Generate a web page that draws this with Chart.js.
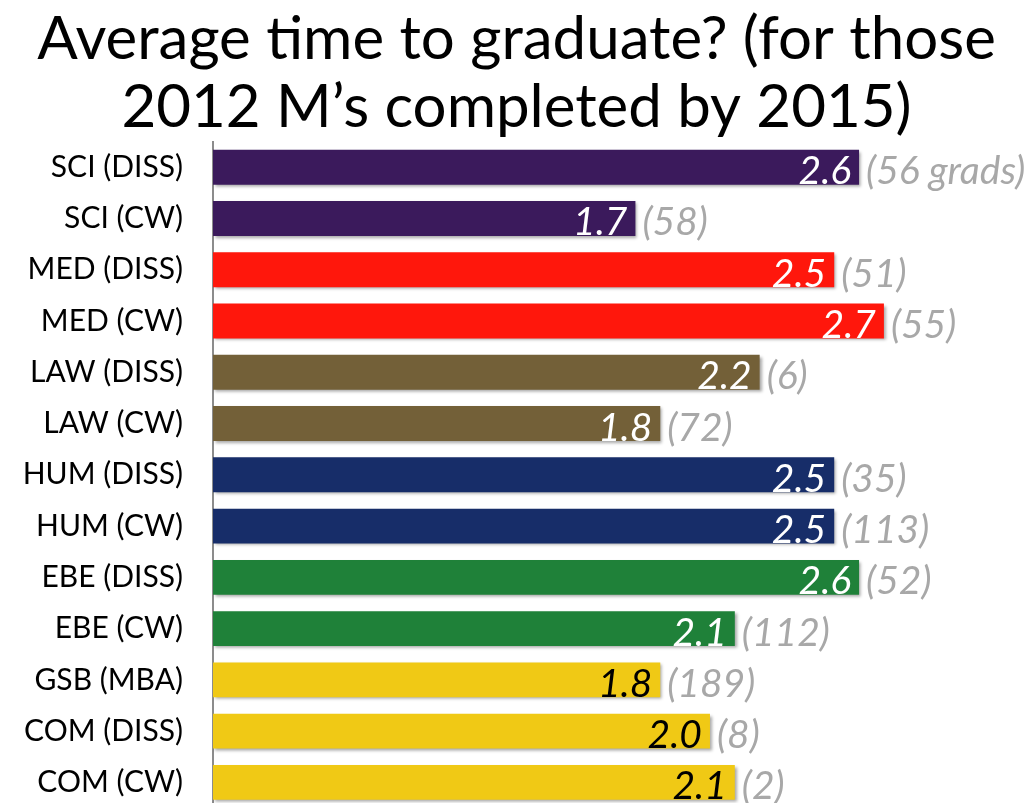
<!DOCTYPE html>
<html>
<head>
<meta charset="utf-8">
<script src="https://cdn.jsdelivr.net/npm/chart.js@4"></script>
<style>
  html, body { margin: 0; padding: 0; background: #fff; overflow: hidden; }
  canvas { display: block; }
</style>
</head>
<body>
<canvas id="chart" width="1035" height="810"></canvas>
<script>
const categories = ["SCI (DISS)", "SCI (CW)", "MED (DISS)", "MED (CW)", "LAW (DISS)", "LAW (CW)",
  "HUM (DISS)", "HUM (CW)", "EBE (DISS)", "EBE (CW)", "GSB (MBA)", "COM (DISS)", "COM (CW)"];
const avgYears = [2.6, 1.7, 2.5, 2.7, 2.2, 1.8, 2.5, 2.5, 2.6, 2.1, 1.8, 2.0, 2.1];
const gradCounts = ["(56 grads)", "(58)", "(51)", "(55)", "(6)", "(72)", "(35)", "(113)", "(52)", "(112)", "(189)", "(8)", "(2)"];

const facultyColors = {
  SCI: "#3b1a5c", MED: "#ff170c", LAW: "#736038", HUM: "#172d69",
  EBE: "#1f8139", GSB: "#f0c915", COM: "#f0c915"
};
const barColors = categories.map(c => facultyColors[c.split(" ")[0]]);
const valueColors = categories.map(c => (c.startsWith("GSB") || c.startsWith("COM")) ? "#000" : "#fff");

// soft shadow under the bars, then labels drawn on top
const barLabels = {
  id: "barLabels",
  beforeDatasetsDraw(chart) {
    const ctx = chart.ctx;
    ctx.save();
    ctx.shadowColor = "rgba(0,0,0,0.35)";
    ctx.shadowOffsetX = 2;
    ctx.shadowOffsetY = 2;
    ctx.shadowBlur = 3;
  },
  afterDatasetsDraw(chart) {
    const ctx = chart.ctx;
    ctx.restore();
    const meta = chart.getDatasetMeta(0);
    ctx.save();
    ctx.font = "italic 39px Lato, 'Open Sans', sans-serif";
    ctx.textBaseline = "alphabetic";
    meta.data.forEach((bar, i) => {
      const y = bar.y + 17;
      ctx.textAlign = "right";
      ctx.fillStyle = valueColors[i];
      ctx.fillText(avgYears[i].toFixed(1), bar.x - 8, y);
      ctx.textAlign = "left";
      ctx.fillStyle = "#a8a8a8";
      ctx.fillText(gradCounts[i], bar.x + 7, y);
    });
    ctx.restore();
  }
};

new Chart(document.getElementById("chart"), {
  type: "bar",
  data: {
    labels: categories,
    datasets: [{
      data: avgYears,
      backgroundColor: barColors,
      borderWidth: 0,
      barPercentage: 0.68,
      categoryPercentage: 1
    }]
  },
  plugins: [barLabels],
  options: {
    indexAxis: "y",
    responsive: false,
    animation: false,
    layout: { padding: { right: 2, bottom: 2 } },
    scales: {
      x: { display: false, min: 0, max: 3.3 },
      y: {
        grid: { display: false, drawTicks: false },
        border: { display: true, color: "#8c8c8c", width: 2 },
        ticks: {
          color: "#000",
          padding: 30,
          font: { family: "Lato, 'Open Sans', sans-serif", size: 30 }
        },
        afterFit(scale) {
          scale.width = 213;
          scale.paddingTop = 0;
          scale.paddingBottom = 0;
        }
      }
    },
    plugins: {
      legend: { display: false },
      tooltip: { enabled: false },
      title: {
        display: true,
        text: ["Average time to graduate? (for those", "2012 M\u2019s completed by 2015)"],
        color: "#000",
        font: { family: "Lato, 'Open Sans', sans-serif", size: 60, weight: "normal", lineHeight: 1.13 },
        padding: { top: 6, bottom: 0 }
      }
    }
  }
});
</script>
</body>
</html>
